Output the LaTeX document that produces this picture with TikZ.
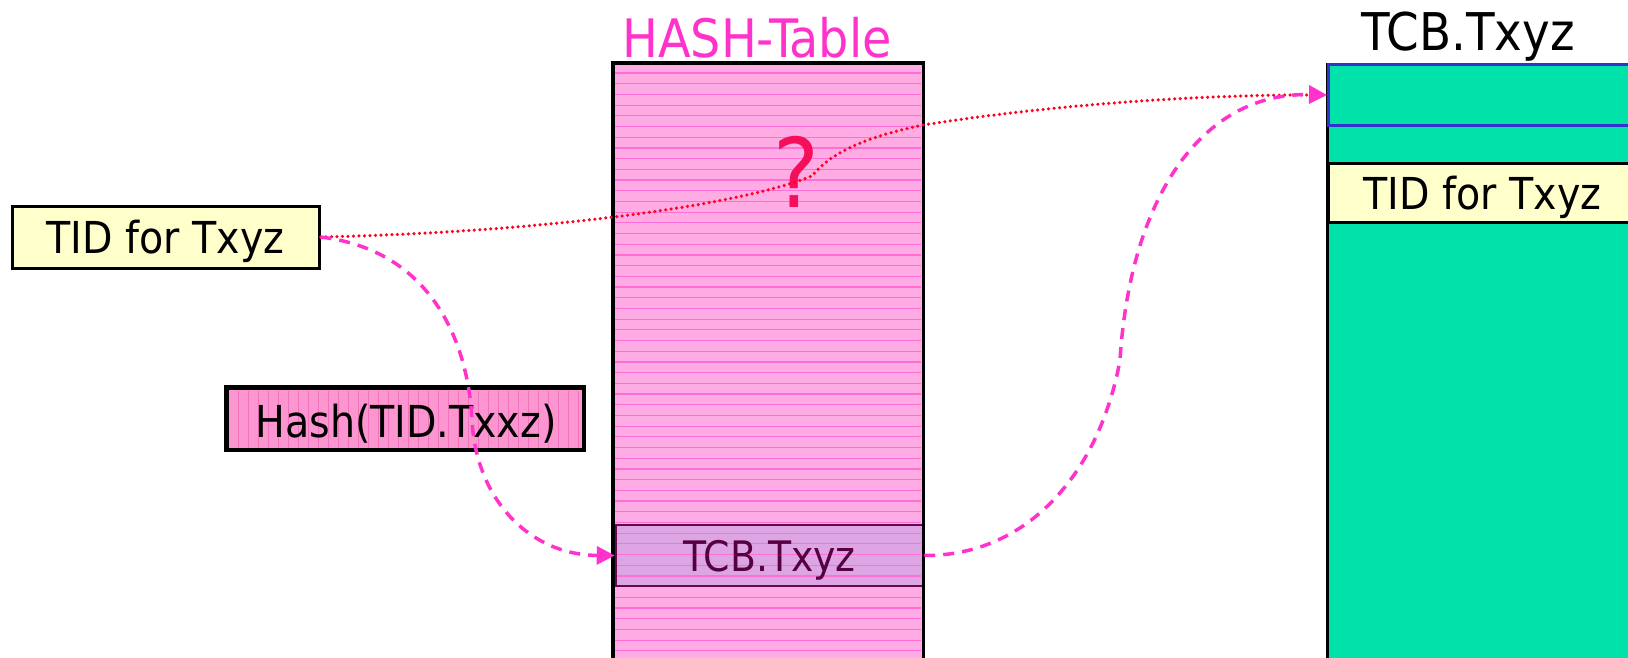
\documentclass[tikz,border=0pt]{standalone}
\usepackage{fontspec}
\setmainfont{DejaVu Sans Condensed}
\usetikzlibrary{arrows.meta}

\definecolor{noteyellow}{RGB}{255,255,204}
\definecolor{tablepink}{RGB}{255,172,228}
\definecolor{tableline}{RGB}{255,110,212}
\definecolor{hashpink}{RGB}{252,150,208}
\definecolor{hashline}{RGB}{240,115,188}
\definecolor{slotfill}{RGB}{222,165,228}
\definecolor{slotedge}{RGB}{100,10,75}
\definecolor{slottext}{RGB}{85,0,65}
\definecolor{tcbgreen}{RGB}{0,226,170}
\definecolor{headblue}{RGB}{51,51,204}
\definecolor{linkpink}{RGB}{255,51,204}
\definecolor{linkred}{RGB}{255,0,30}
\definecolor{qred}{RGB}{245,15,90}

\tikzset{
  fieldbox/.style={draw=black, line width=3pt, inner sep=0pt,
    text height=32pt, text depth=0pt, font=\fontsize{44}{44}\selectfont},
  titletext/.style={inner sep=0pt, anchor=base},
  dashlink/.style={draw=linkpink, line width=3.5pt, dash pattern=on 11pt off 8pt,
    -{Triangle[length=18pt,width=18pt]}},
  dotlink/.style={draw=linkred, line width=3.5pt, line cap=round,
    dash pattern=on 0pt off 5.5pt},
}

\begin{document}
\begin{tikzpicture}[x=1pt,y=-1pt]
\useasboundingbox (0,0) rectangle (1628,657);
\clip (0,0) rectangle (1628,657);

% hash table column
\node[fill=tablepink, minimum width=310pt, minimum height=620pt, inner sep=0pt,
      anchor=north west] (htab) at (613,63) {};
\node[fill=slotfill, minimum width=307pt, minimum height=61pt, inner sep=0pt]
      (slotbg) at (769.5,555.5) {};
\foreach \k [evaluate=\k as \yy using 73+10.7*\k] in {0,...,56}
  \draw[tableline, line width=1.2pt] (615,\yy) -- (921,\yy);
\node[draw=slotedge, line width=2.5pt, minimum width=307pt, minimum height=61pt,
      inner sep=0pt, text height=31pt, text depth=0pt, text=slottext,
      font=\fontsize{42}{42}\selectfont] (slot) at (769.5,555.5) {TCB.Txyz};
\draw[line width=3.5pt] (htab.south west) |- (htab.north east) -- (htab.south east);
\node[titletext, text=linkpink, font=\fontsize{53}{53}\selectfont]
      (htitle) at (757,57) {HASH-Table};

% TCB of the transaction
\node[fill=tcbgreen, minimum width=320pt, minimum height=620pt, inner sep=0pt,
      anchor=north west] (tcb) at (1327,63) {};
\draw[line width=3pt] (tcb.north west) -- (tcb.south west);
\node[draw=headblue, line width=3pt, minimum width=308pt, minimum height=61pt,
      inner sep=0pt, anchor=north west] (tcbhead) at (1327,63) {};
\node[fieldbox, fill=noteyellow, minimum width=308pt, minimum height=59pt,
      anchor=north west] (tidR) at (1327,162) {TID for Txyz};
\node[titletext, font=\fontsize{52}{52}\selectfont] (tcbtitle) at (1468,50) {TCB.Txyz};

% transaction id and its hash
\node[fieldbox, fill=noteyellow, minimum width=307pt, minimum height=62pt]
      (tidL) at (165.5,237) {TID for Txyz};
\node[fieldbox, fill=hashpink, minimum width=356pt, minimum height=61pt]
      (hashfn) at (405,418.5) {};
\foreach \xx in {238,248,...,578}
  \draw[hashline, line width=1pt] (\xx,390.5) -- (\xx,447.5);
\draw[line width=3pt] (hashfn.north west) rectangle (hashfn.south east);
\node[inner sep=0pt, text height=32pt, text depth=0pt, font=\fontsize{44}{44}\selectfont]
      (hashlabel) at (406,421) {Hash(TID.Txxz)};

\node[titletext, text=qred, font=\fontsize{96}{96}\selectfont] (q) at (796,207) {?};

% links
\draw[dotlink] (tidL.east) .. controls (550,232) and (740,205) .. (812,176)
  .. controls (825,160) and (850,140) .. (923,125)
  .. controls (1050,105) and (1200,94) .. (tcbhead.west);
\draw[dashlink] (tidL.east) .. controls (430,250) and (468,340) .. (472,420)
  .. controls (476,500) and (530,555) .. (slot.west);
\draw[dashlink] (slot.east) .. controls (1030,556) and (1100,470) .. (1120,360)
  .. controls (1130,200) and (1200,92) .. (tcbhead.west);
\end{tikzpicture}
\end{document}
